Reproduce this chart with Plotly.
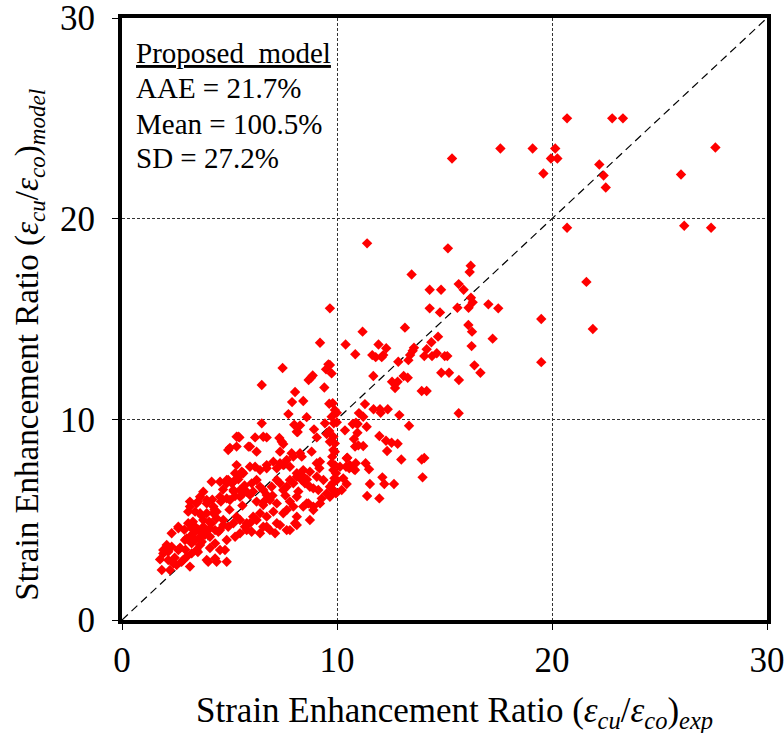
import plotly.graph_objects as go

x_exp = [
    20.7, 22.8, 23.3, 17.6, 19.1, 20.15, 19.95, 20.25, 27.6, 19.6, 22.2, 22.4, 22.5, 26.0, 15.35, 20.7, 26.15, 27.4, 21.6, 19.5, 21.9, 19.5,
    15.16, 16.22, 16.17, 15.66, 15.89, 14.31, 14.84, 16.23, 16.31, 17.04, 17.5, 14.31, 14.79, 15.6, 16.12, 16.11, 16.28, 17.24, 14.7, 14.39,
    14.17, 14.06, 14.42, 14.64, 15.01, 15.13, 16.26, 16.39, 16.67, 14.85, 15.21, 15.67, 13.94, 14.17, 15.66,
    11.4, 13.47, 11.19, 13.16, 10.4, 11.93, 12.29, 10.85, 11.64, 11.8, 12.08, 12.15, 13.58, 13.52, 13.4, 13.32, 12.85, 11.69, 12.56, 12.82,
    12.7, 13.1, 13.29, 11.3, 11.7, 12.0, 12.36, 12.03, 11.02, 11.22, 12.9, 13.35, 10.73, 10.88, 10.96, 10.37, 10.95, 10.79, 11.38, 11.97,
    12.28, 12.54, 12.82, 12.33, 10.99, 11.22, 12.99, 13.94, 14.06, 13.98, 10.48, 10.87, 11.33, 11.49, 10.42, 10.57, 10.79, 10.14, 12.11,
    11.53, 12.2, 12.65, 10.29, 10.45, 11.4, 11.97, 10.22,
    9.9, 9.99, 9.75, 9.99, 9.83, 9.9, 9.83, 9.75, 9.83, 9.99, 9.83, 9.67, 9.75, 9.67, 9.8, 9.85, 9.9, 9.78, 9.9, 9.95, 9.88, 9.8, 9.95,
    9.21, 9.6, 9.49, 7.47, 6.5, 8.87, 8.79, 8.68, 9.41, 8.05, 7.91, 8.43, 9.64, 7.74, 8.59, 6.5, 8.01, 8.28, 8.17, 8.93, 9.44, 9.64, 9.52,
    9.06, 5.46, 6.19, 6.73, 7.32,
    5.02, 4.94, 5.33, 5.95, 6.26, 7.43, 7.5, 5.33, 5.57, 5.64, 6.19, 6.73, 7.2, 7.5, 7.97, 8.36, 8.43, 7.89, 7.66, 8.82, 9.06, 9.21, 9.18,
    10.45, 10.84, 10.6, 10.84,
    4.17, 4.56, 4.87, 4.94, 5.18, 5.41, 3.78, 4.56, 4.87, 5.02, 5.26,
    5.49, 5.64, 5.8, 6.03, 6.26, 6.42, 6.57, 6.73, 6.96, 7.2, 7.35, 7.5, 7.66, 7.81, 7.97, 8.13, 8.36, 8.51, 8.74, 8.9, 9.13, 9.29, 9.52, 9.67,
    3.16, 3.4, 3.63, 3.78, 3.94, 4.17, 4.4, 4.71, 4.94, 5.18, 5.49, 5.72, 5.95, 6.1, 6.42, 6.73, 7.04, 7.2, 7.5, 7.66, 7.97, 8.13, 8.43, 8.67,
    8.9, 9.21,
    2.08, 2.31, 1.92, 2.15, 2.39, 1.85, 2.23, 2.54, 2.77, 3.01, 3.24, 3.47, 3.16, 2.93, 3.32, 3.63, 3.86, 4.09, 4.33, 4.4, 4.01, 4.87, 4.56,
    4.87, 2.62, 2.31,
    3.24, 3.4, 3.78, 4.09, 4.33, 4.56, 4.71, 5.26, 5.49, 5.8, 6.03, 6.42, 6.57, 6.88, 7.12, 7.35, 7.81, 8.05,
    5.41, 5.26, 5.41, 4.87,
    5.33, 6.57, 5.88, 7.35, 8.13, 8.28, 9.67,
    5.95, 6.42, 6.73, 7.04, 7.35, 7.81, 8.13, 8.36, 8.74, 9.06, 9.37,
    5.18, 5.49, 5.95, 6.26, 6.57, 6.88, 7.2, 7.81, 8.13, 8.59, 8.9, 9.67,
    5.33, 5.8, 6.26, 6.73, 7.66, 8.13, 8.74,
    5.11, 3.16, 3.53, 3.94, 4.25, 3.08, 2.62, 3.08, 1.77, 1.92, 2.15, 2.62, 2.85, 3.16, 3.94, 4.33, 4.79, 3.01, 3.24, 3.71, 4.48,
    3.4, 3.63, 3.86, 3.53, 4.09, 3.47, 3.94, 4.25, 4.4, 3.63,
    2.45, 2.7, 2.95, 3.2, 3.55, 3.8, 4.05, 4.3, 4.6, 5.0, 5.6, 6.1, 6.6, 7.0, 7.6, 8.2, 8.6, 2.9, 3.3, 3.7, 4.2, 4.7, 5.2, 5.7,
]
y_model = [
    25.0, 25.0, 25.0, 23.5, 23.5, 23.5, 23.0, 23.0, 23.55, 22.25, 22.7, 22.15, 21.55, 22.2, 23.0, 19.55, 19.65, 19.55, 16.85, 15.0, 14.5, 12.85,
    18.52, 17.65, 17.34, 16.74, 16.46, 16.46, 16.46, 16.06, 15.83, 15.73, 15.53, 15.53, 15.33, 15.56, 15.56, 14.7, 14.37, 14.02, 14.12, 13.84,
    13.49, 13.15, 13.15, 13.29, 13.15, 13.15, 13.65, 12.69, 12.32, 12.32, 12.32, 11.96, 11.41, 11.41, 10.3,
    18.77, 17.22, 14.37, 14.57, 13.73, 13.73, 13.54, 13.24, 13.2, 13.1, 13.1, 13.2, 13.57, 13.42, 13.2, 12.95, 12.87, 12.16, 11.87, 11.87,
    11.56, 12.16, 12.07, 10.76, 10.5, 10.5, 10.5, 10.33, 10.31, 10.13, 10.21, 9.68, 9.77, 9.83, 9.77, 9.45, 9.33, 9.02, 9.63, 9.17,
    8.93, 8.83, 8.78, 8.42, 8.7, 8.67, 8.0, 8.0, 8.07, 7.11, 8.09, 7.81, 7.81, 7.51, 7.64, 7.56, 7.51, 7.64, 7.11,
    6.78, 6.78, 6.78, 7.06, 6.78, 6.18, 6.06, 6.48,
    10.46, 10.33, 10.13, 9.85, 9.13, 8.8, 8.47, 7.81, 7.47, 6.98, 6.48, 12.71, 12.29, 15.53, 10.8, 9.8, 8.39, 8.14, 7.72, 7.31, 7.06, 6.81, 6.31,
    13.82, 12.74, 12.49, 12.56, 11.71, 12.19, 12.07, 11.96, 11.59, 11.36, 10.86, 10.91, 10.78, 10.26, 10.11, 9.8, 9.73, 9.7, 9.37, 9.5, 9.8, 9.42, 9.27,
    9.1, 9.1, 9.1, 9.1, 9.07,
    8.58, 8.47, 8.64, 8.64, 8.39, 8.88, 8.77, 7.72, 7.39, 7.31, 7.64, 7.56, 7.56, 7.72, 8.14, 8.14, 7.47, 8.31, 7.97, 8.39, 7.81, 7.89, 7.56,
    8.06, 8.64, 7.72, 7.47,
    6.89, 6.89, 6.81, 6.98, 6.89, 7.01, 6.39, 6.14, 6.06, 5.98, 6.18,
    6.48, 6.31, 6.39, 6.81, 6.98, 6.64, 6.48, 6.23, 6.64, 6.98, 6.81, 6.48, 6.64, 6.98, 6.81, 7.14, 6.98, 6.81, 6.64, 6.56, 6.48, 6.06, 6.31, 6.64,
    5.65, 5.4, 5.32, 4.98, 5.32, 4.82, 5.07, 4.98, 4.65, 4.82, 4.98, 4.65, 4.82, 5.15, 5.32, 5.15, 5.4, 4.82, 5.32, 5.48, 5.65, 5.15, 5.65, 5.81,
    5.65, 5.81,
    3.74, 3.65, 3.32, 2.99, 2.82, 2.49, 2.49, 2.74, 2.9, 3.15, 3.32, 3.49, 4.15, 3.99, 4.32, 4.15, 4.4, 4.15, 3.82, 2.9, 2.9, 2.9, 3.49,
    3.99, 4.65, 4.32,
    4.57, 4.65, 4.65, 4.57, 4.48, 4.48, 4.73, 4.15, 4.32, 4.48, 4.4, 4.32, 4.65, 4.48, 4.32, 4.73, 4.48, 4.82,
    9.13, 7.31, 7.14, 6.98,
    9.13, 9.13, 8.64, 8.39, 9.38, 8.31, 8.88,
    7.64, 7.47, 7.72, 7.89, 7.81, 7.64, 7.31, 7.22, 7.39, 7.14, 6.98,
    6.48, 6.14, 6.23, 5.9, 5.73, 5.98, 5.81, 5.9, 6.14, 5.81, 5.48, 6.14,
    5.15, 4.82, 4.98, 4.65, 4.48, 4.73, 4.98,
    6.81, 5.9, 5.9, 5.81, 5.32, 5.4, 4.57, 4.82, 3.02, 3.49, 3.4, 3.49, 2.99, 2.66, 2.99, 3.07, 3.49, 4.07, 3.82, 3.9, 4.4,
    3.99, 3.74, 4.24, 3.39, 3.59, 5.81, 5.98, 5.65, 5.4, 6.14,
    3.1, 3.6, 3.5, 4.0, 4.5, 4.3, 4.9, 5.5, 5.9, 5.5, 5.7, 6.4, 5.9, 6.2, 6.2, 6.4, 7.0, 4.5, 4.9, 5.2, 6.0, 6.5, 6.4, 6.7,
]

diag = [0, 30]
tick_vals = [0, 10, 20, 30]
tick_text = ["0", "10", "20", "30"]
box_lines = ["<span style='text-decoration:underline'>Proposed  model</span>",
             "AAE = 21.7%", "Mean = 100.5%", "SD = 27.2%"]
x_title = "Strain Enhancement Ratio (<i>ε<sub>cu</sub></i>/<i>ε<sub>co</sub></i>)<sub><i>exp</i></sub>"
y_title = "Strain Enhancement Ratio (<i>ε<sub>cu</sub></i>/<i>ε<sub>co</sub></i>)<sub><i>model</i></sub>"

FONT = "Liberation Serif, Times New Roman, serif"

fig = go.Figure()
fig.add_trace(go.Scatter(x=diag, y=diag, mode="lines",
                         line=dict(color="black", width=1.2, dash="8px,5px"),
                         hoverinfo="skip", showlegend=False))
fig.add_trace(go.Scatter(x=x_exp, y=y_model, mode="markers",
                         marker=dict(symbol="diamond", size=8, color="#ff0000", line=dict(width=0)),
                         showlegend=False))

axis_common = dict(range=[0, 30], tickvals=tick_vals, ticktext=tick_text, automargin=False,
                   showline=True, linewidth=4, linecolor="black", mirror=True,
                   ticks="outside", ticklen=6, tickwidth=1, tickcolor="black",
                   showgrid=True, gridcolor="#333333", gridwidth=1, griddash="3px,2px",
                   zeroline=False, ticklabeloverflow="allow",
                   tickfont=dict(family=FONT, size=35, color="black"))

fig.update_xaxes(**axis_common)
fig.update_yaxes(**axis_common, ticklabelstandoff=10)

# stats box, one line each
line_y = [0.942, 0.884, 0.824, 0.767]
for txt, yy in zip(box_lines, line_y):
    fig.add_annotation(xref="paper", yref="paper", x=0.018, y=yy, xanchor="left", yanchor="middle",
                       align="left", showarrow=False, text=txt,
                       font=dict(family=FONT, size=29, color="black"))

fig.add_annotation(xref="paper", yref="paper", x=0.516, y=-0.153, xanchor="center", yanchor="middle",
                   showarrow=False, text=x_title, font=dict(family=FONT, size=35, color="black"))
fig.add_annotation(xref="paper", yref="paper", x=-0.143, y=0.457, xanchor="center", yanchor="middle",
                   textangle=-90, showarrow=False, text=y_title,
                   font=dict(family=FONT, size=33, color="black"))

fig.update_layout(width=784, height=733, margin=dict(l=122, r=17, t=18, b=113),
                  paper_bgcolor="white", plot_bgcolor="white", font=dict(family=FONT, color="black"))

# remove the default page margin so the figure fills the window exactly
fig.write_html("out.html", config={"displayModeBar": False},
               post_script="document.body.style.margin='0';document.body.style.overflow='hidden';")
